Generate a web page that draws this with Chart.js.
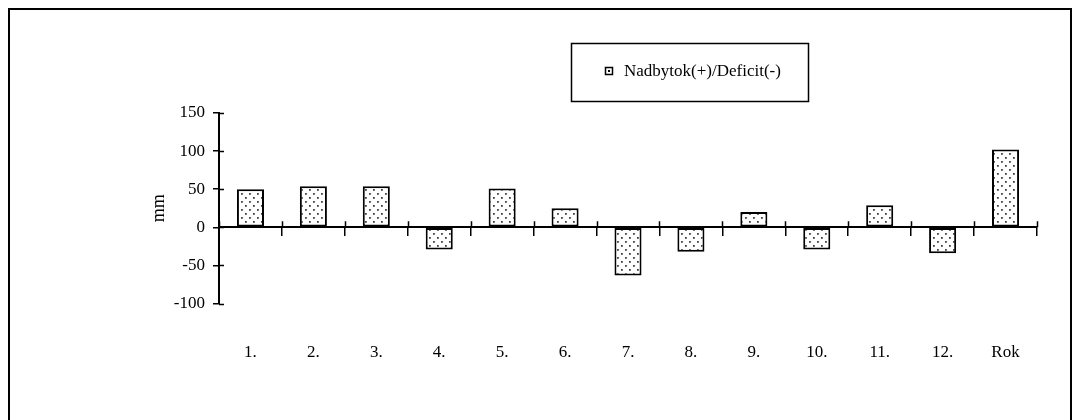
<!DOCTYPE html>
<html>
<head>
<meta charset="utf-8">
<script src="https://cdn.jsdelivr.net/npm/chart.js@4.4.1/dist/chart.umd.min.js"></script>
<style>
  html, body { margin: 0; padding: 0; background: #fff; }
  #wrap { position: relative; width: 1073px; height: 420px; }
</style>
</head>
<body>
<div id="wrap"><canvas id="c" width="1073" height="420"></canvas></div>
<script>
// Monthly water balance (mm) with annual total
const categories = ['1.', '2.', '3.', '4.', '5.', '6.', '7.', '8.', '9.', '10.', '11.', '12.', 'Rok'];
const balance = [50, 54, 54, -29, 51, 25, -63, -32, 20, -29, 29, -34, 102];
const seriesLabel = 'Nadbytok(+)/Deficit(-)';
const yTitle = 'mm';
const yMin = -100, yMax = 150, yStep = 50;

const FONT = 'Liberation Serif';

// dotted fill used for the bars
function dotPattern() {
  const t = document.createElement('canvas');
  t.width = 8; t.height = 8;
  const g = t.getContext('2d');
  g.fillStyle = '#ffffff';
  g.fillRect(0, 0, 8, 8);
  g.fillStyle = '#444444';
  g.fillRect(1, 1, 1.8, 1.8);
  g.fillRect(5, 5, 1.8, 1.8);
  return document.getElementById('c').getContext('2d').createPattern(t, 'repeat');
}
const fill = dotPattern();

// frame, boxed legend and the inner halves of the axis ticks
const decorations = {
  id: 'decorations',
  beforeDraw(chart) {
    const ctx = chart.ctx;
    ctx.save();
    ctx.fillStyle = '#fff';
    ctx.fillRect(0, 0, chart.width, chart.height);
    ctx.strokeStyle = '#000';
    ctx.lineWidth = 2;
    ctx.strokeRect(9, 9, 1062, 500);
    ctx.restore();
  },
  afterDraw(chart) {
    const ctx = chart.ctx;
    const xs = chart.scales.x0;
    const ys = chart.scales.y;
    const y0 = ys.getPixelForValue(0);
    const n = categories.length;
    const step = (xs.right - xs.left) / n;
    ctx.save();
    ctx.strokeStyle = '#000';
    ctx.lineWidth = 1.5;
    ctx.beginPath();
    for (let i = 0; i <= n; i++) {
      const x = Math.round(xs.getPixelForValue(Math.min(i, n - 1)) + (i < n ? -step / 2 : step / 2)) + 0.5;
      ctx.moveTo(x, y0 - 6);
      ctx.lineTo(x, y0);
    }
    ys.ticks.forEach(t => {
      const py = Math.round(ys.getPixelForValue(t.value)) + 0.5;
      ctx.moveTo(ys.right, py);
      ctx.lineTo(ys.right + 5, py);
    });
    ctx.stroke();

    // legend box
    ctx.lineWidth = 1.5;
    ctx.strokeRect(571.5, 43.5, 237, 58);
    ctx.fillStyle = '#fff';
    ctx.fillRect(605, 67, 8, 8);
    ctx.strokeRect(605.5, 67.5, 7, 7);
    ctx.fillStyle = '#000';
    ctx.fillRect(608, 70, 2, 2);
    ctx.font = '17px "' + FONT + '"';
    ctx.textBaseline = 'middle';
    ctx.fillText(chart.data.datasets[0].label, 624, 72);
    ctx.restore();
  }
};

new Chart(document.getElementById('c'), {
  type: 'bar',
  data: {
    labels: categories,
    datasets: [{
      label: seriesLabel,
      data: balance,
      backgroundColor: fill,
      borderColor: '#000',
      borderWidth: 2,
      borderSkipped: false,
      barPercentage: 0.43,
      categoryPercentage: 1.0,
      xAxisID: 'x',
      yAxisID: 'y'
    }]
  },
  options: {
    responsive: false,
    animation: false,
    devicePixelRatio: 1,
    layout: { padding: { left: 148, right: 36, top: 113, bottom: 18 } },
    plugins: { legend: { display: false }, tooltip: { enabled: false } },
    scales: {
      x: {
        type: 'category',
        position: 'bottom',
        offset: true,
        grid: { display: false, drawTicks: false },
        border: { display: false },
        ticks: { color: '#000', padding: 39, font: { family: FONT, size: 17 }, maxRotation: 0 }
      },
      x0: {
        type: 'category',
        axis: 'x',
        labels: categories,
        position: { y: 0 },
        offset: true,
        grid: { offset: true, drawOnChartArea: false, drawTicks: true, tickLength: 8, color: '#000', lineWidth: 1.5 },
        border: { display: true, color: '#000', width: 2 },
        ticks: { display: false }
      },
      y: {
        min: yMin,
        max: yMax,
        ticks: { stepSize: yStep, color: '#000', padding: 8, font: { family: FONT, size: 17 } },
        grid: { drawOnChartArea: false, drawTicks: true, tickLength: 6, color: '#000', lineWidth: 1.5 },
        border: { display: true, color: '#000', width: 2 },
        title: { display: true, text: yTitle, color: '#000', padding: 0, font: { family: FONT, size: 18 } },
        afterFit(scale) { scale.width = 71; }
      }
    }
  },
  plugins: [decorations]
});
</script>
</body>
</html>
